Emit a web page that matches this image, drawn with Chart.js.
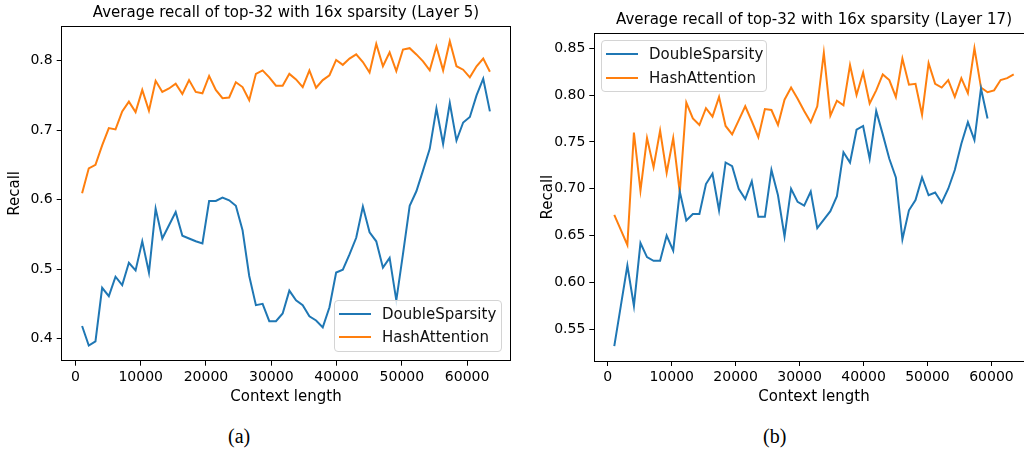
<!DOCTYPE html>
<html>
<head>
<meta charset="utf-8">
<script src="https://cdn.jsdelivr.net/npm/chart.js@4.4.1/dist/chart.umd.min.js"></script>
<style>
  html, body { margin: 0; padding: 0; background: #fff; }
  body { width: 1024px; height: 453px; overflow: hidden; position: relative; font-family: 'DejaVu Sans', sans-serif; }
  canvas { position: absolute; top: 0; }
  .legend { position: absolute; border: 1px solid #d4d4d4; border-radius: 4px; background: rgba(255,255,255,0.8); box-sizing: border-box; }
  .legend-item { position: absolute; left: 0; height: 20px; display: flex; align-items: center; font-size: 15px; color: #111; white-space: nowrap; }
  .swatch { width: 32px; height: 2px; margin: 0 11px 0 4px; }
  .caption { position: absolute; top: 425px; font-family: 'Liberation Serif', serif; font-size: 20px; color: #000; }
</style>
</head>
<body>
<canvas id="layer5" width="572" height="420" style="left:0px"></canvas>
<canvas id="layer17" width="568" height="420" style="left:530px"></canvas>
<div id="legend5" class="legend" style="left:334px; top:300px; width:168px; height:52px"></div>
<div id="legend17" class="legend" style="left:601px; top:40px; width:166px; height:52px"></div>
<div class="caption" style="left:228px">(a)</div>
<div class="caption" style="left:763px">(b)</div>
<script>
const contextLengths = [
  1024, 2048, 3072, 4096, 5120, 6144, 7168, 8192, 9216, 10240,
  11264, 12288, 13312, 14336, 15360, 16384, 17408, 18432, 19456, 20480,
  21504, 22528, 23552, 24576, 25600, 26624, 27648, 28672, 29696, 30720,
  31744, 32768, 33792, 34816, 35840, 36864, 37888, 38912, 39936, 40960,
  41984, 43008, 44032, 45056, 46080, 47104, 48128, 49152, 50176, 51200,
  52224, 53248, 54272, 55296, 56320, 57344, 58368, 59392, 60416, 61440,
  62464, 63488,
];

const seriesNames = ['DoubleSparsity', 'HashAttention'];
const seriesColors = ['#1f77b4', '#ff7f0e'];

// Layer 5
const doubleSparsityL5 = [
  0.418, 0.390, 0.396, 0.473, 0.461, 0.489, 0.477, 0.509, 0.498, 0.540,
  0.495, 0.587, 0.544, 0.563, 0.582, 0.548, 0.544, 0.540, 0.537, 0.598,
  0.598, 0.603, 0.599, 0.591, 0.556, 0.490, 0.448, 0.450, 0.425, 0.425,
  0.436, 0.469, 0.455, 0.448, 0.432, 0.426, 0.416, 0.445, 0.495, 0.499,
  0.521, 0.545, 0.590, 0.553, 0.540, 0.502, 0.516, 0.455, 0.522, 0.591,
  0.612, 0.642, 0.673, 0.731, 0.680, 0.739, 0.685, 0.711, 0.719, 0.750,
  0.774, 0.727,
];
const hashAttentionL5 = [
  0.609, 0.645, 0.650, 0.678, 0.703, 0.701, 0.727, 0.741, 0.726, 0.758,
  0.728, 0.771, 0.755, 0.760, 0.767, 0.752, 0.772, 0.755, 0.753, 0.778,
  0.758, 0.746, 0.747, 0.769, 0.762, 0.743, 0.781, 0.786, 0.776, 0.764,
  0.764, 0.781, 0.773, 0.762, 0.786, 0.761, 0.772, 0.779, 0.801, 0.794,
  0.803, 0.809, 0.798, 0.783, 0.824, 0.792, 0.812, 0.785, 0.816, 0.818,
  0.809, 0.799, 0.786, 0.820, 0.786, 0.828, 0.792, 0.787, 0.776, 0.792,
  0.803, 0.784,
];

// Layer 17 (DoubleSparsity stops at 59392)
const doubleSparsityL17 = [
  0.532, 0.575, 0.618, 0.575, 0.642, 0.627, 0.623, 0.623, 0.650, 0.634,
  0.697, 0.666, 0.673, 0.673, 0.705, 0.716, 0.677, 0.728, 0.724, 0.700,
  0.689, 0.708, 0.670, 0.670, 0.720, 0.693, 0.649, 0.700, 0.686, 0.682,
  0.697, 0.658, 0.667, 0.676, 0.692, 0.739, 0.728, 0.763, 0.767, 0.732,
  0.783, 0.758, 0.732, 0.712, 0.646, 0.677, 0.688, 0.712, 0.693, 0.696,
  0.685, 0.700, 0.720, 0.748, 0.771, 0.752, 0.807, 0.775,
];
const hashAttentionL17 = [
  0.672, 0.656, 0.640, 0.760, 0.698, 0.754, 0.723, 0.762, 0.717, 0.754,
  0.696, 0.792, 0.775, 0.768, 0.786, 0.777, 0.798, 0.767, 0.758, 0.773,
  0.788, 0.772, 0.755, 0.785, 0.784, 0.768, 0.795, 0.808, 0.796, 0.783,
  0.771, 0.788, 0.845, 0.778, 0.794, 0.789, 0.832, 0.800, 0.824, 0.791,
  0.805, 0.822, 0.816, 0.798, 0.839, 0.811, 0.812, 0.779, 0.834, 0.812,
  0.808, 0.816, 0.798, 0.818, 0.802, 0.850, 0.808, 0.803, 0.805, 0.816,
  0.818, 0.822,
];

const xTicks = [0, 10000, 20000, 30000, 40000, 50000, 60000];
const yTicksL5 = [0.4, 0.5, 0.6, 0.7, 0.8];
const yTicksL17 = [0.55, 0.60, 0.65, 0.70, 0.75, 0.80, 0.85];

const FONT = "'DejaVu Sans', sans-serif";

// matplotlib-style 5% margins around the data
function paddedRange(lists) {
  const all = lists.flat();
  const lo = Math.min(...all);
  const hi = Math.max(...all);
  const m = (hi - lo) * 0.05;
  return [lo - m, hi + m];
}

function toPoints(values) {
  return values.map((y, i) => ({ x: contextLengths[i], y }));
}

function frameAxis(position, size) {
  return {
    position,
    display: true,
    ticks: { display: false },
    grid: { drawOnChartArea: false, drawTicks: false },
    border: { display: true, color: '#000', width: 1 },
    afterFit: (s) => {
      if (position === 'top') s.height = size;
      else s.width = size;
    },
  };
}

function buildChart(id, cfg) {
  const [xMin, xMax] = paddedRange([contextLengths]);
  const [yMin, yMax] = paddedRange(cfg.series);
  const tickFont = { family: FONT, size: 14 };
  const labelFont = { family: FONT, size: 15 };

  return new Chart(document.getElementById(id), {
    type: 'line',
    data: {
      datasets: cfg.series.map((values, i) => ({
        label: seriesNames[i],
        data: toPoints(values),
        borderColor: seriesColors[i],
        backgroundColor: seriesColors[i],
        borderWidth: 2,
        pointRadius: 0,
        tension: 0,
        fill: false,
      })),
    },
    options: {
      responsive: false,
      animation: false,
      devicePixelRatio: 1,
      layout: { padding: 0 },
      plugins: {
        legend: { display: false },
        tooltip: { enabled: false },
        title: {
          display: true,
          text: cfg.title,
          color: '#000',
          font: { family: FONT, size: 15, weight: 'normal' },
          padding: { top: cfg.titleTop, bottom: cfg.titleBottom },
        },
      },
      scales: {
        x: {
          type: 'linear',
          position: 'bottom',
          min: xMin,
          max: xMax,
          afterBuildTicks: (s) => { s.ticks = xTicks.map((v) => ({ value: v })); },
          ticks: { font: tickFont, color: '#000', padding: 3, maxRotation: 0, callback: (v) => String(v) },
          grid: { drawOnChartArea: false, drawTicks: true, tickLength: 5, tickColor: '#000', tickWidth: 1 },
          border: { display: true, color: '#000', width: 1 },
          title: { display: true, text: 'Context length', color: '#000', font: labelFont, padding: { top: 0, bottom: 14 } },
          afterFit: (s) => { s.height = cfg.xAxisHeight; },
        },
        y: {
          type: 'linear',
          position: 'left',
          min: yMin,
          max: yMax,
          afterBuildTicks: (s) => { s.ticks = cfg.yTicks.map((v) => ({ value: v })); },
          ticks: { font: tickFont, color: '#000', padding: 4, callback: (v) => v.toFixed(cfg.decimals) },
          grid: { drawOnChartArea: false, drawTicks: true, tickLength: 5, tickColor: '#000', tickWidth: 1 },
          border: { display: true, color: '#000', width: 1 },
          title: { display: true, text: 'Recall', color: '#000', font: labelFont, padding: { top: cfg.yTitlePad, bottom: 0 } },
          afterFit: (s) => { s.width = cfg.yAxisWidth; },
        },
        xTop: frameAxis('top', 0),
        yRight: frameAxis('right', cfg.yAxisWidth),
      },
    },
  });
}

function renderLegend(id, lineTops) {
  document.getElementById(id).innerHTML = seriesNames
    .map(
      (name, i) =>
        `<div class="legend-item" style="top:${lineTops[i] - 10}px"><span class="swatch" style="background:${seriesColors[i]}"></span>${name}</div>`
    )
    .join('');
}

buildChart('layer5', {
  title: 'Average recall of top-32 with 16x sparsity (Layer 5)',
  series: [doubleSparsityL5, hashAttentionL5],
  yTicks: yTicksL5,
  decimals: 1,
  titleTop: 4,
  titleBottom: 4,
  xAxisHeight: 59.3,
  yAxisWidth: 61.7,
  yTitlePad: 6,
});

buildChart('layer17', {
  title: 'Average recall of top-32 with 16x sparsity (Layer 17)',
  series: [doubleSparsityL17, hashAttentionL17],
  yTicks: yTicksL17,
  decimals: 2,
  titleTop: 11,
  titleBottom: 4.3,
  xAxisHeight: 59,
  yAxisWidth: 64.3,
  yTitlePad: 9,
});

renderLegend('legend5', [13, 36]);
renderLegend('legend17', [13, 37]);
</script>
</body>
</html>
